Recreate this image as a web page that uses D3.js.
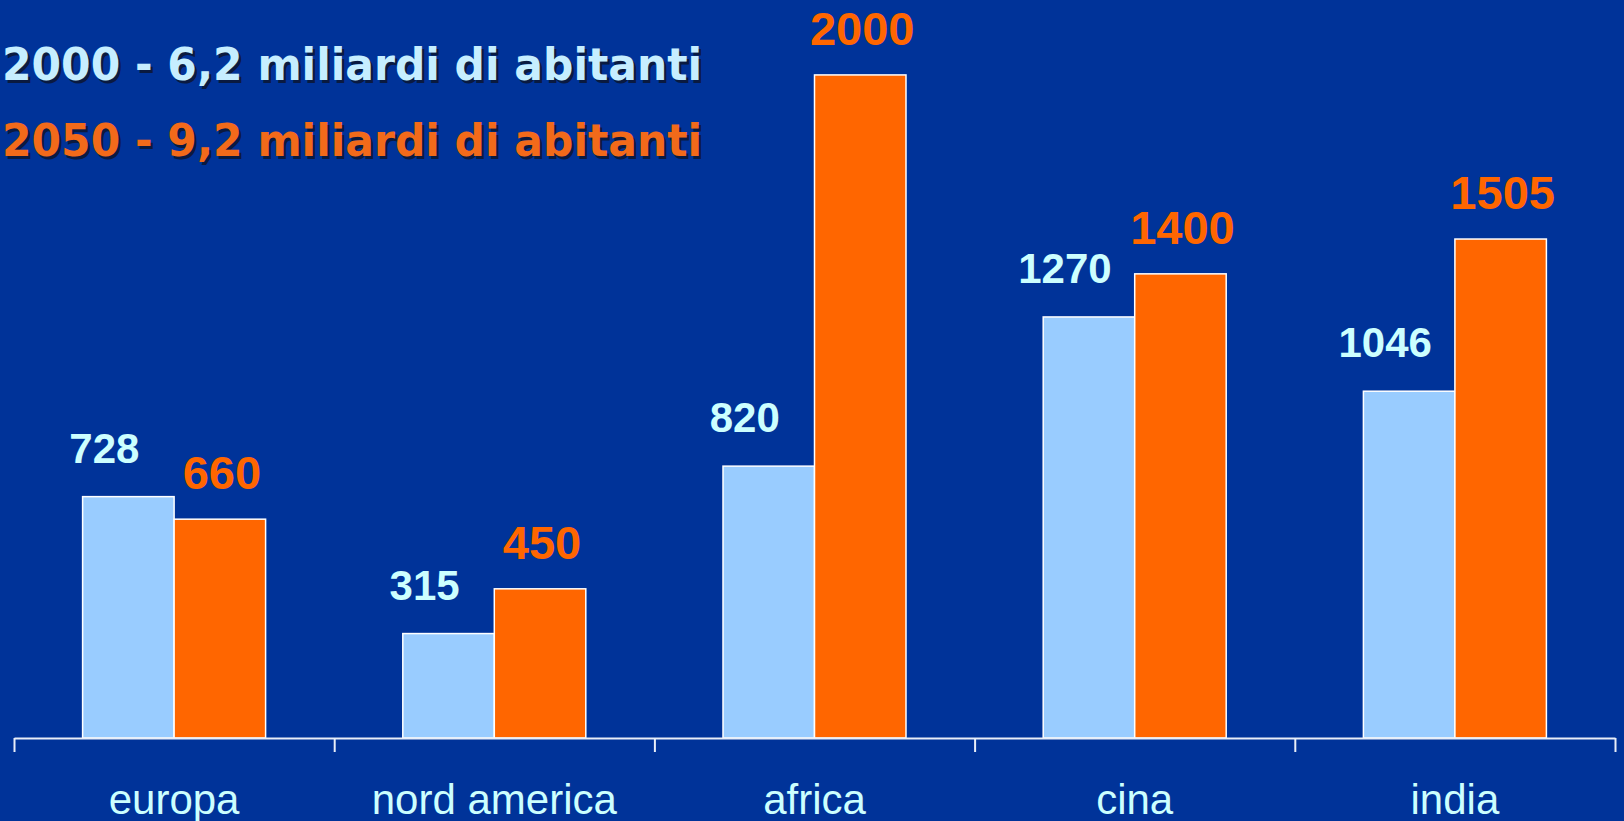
<!DOCTYPE html>
<html>
  <head>
    <meta charset="UTF-8" />
    <script src="https://d3js.org/d3.v7.min.js"></script>
    <style>
      html, body { margin: 0; padding: 0; background: #003399; overflow: hidden; }
    </style>
  </head>
  <body>
    <div id="my_dataviz"></div>
    <script>
      // data
      var categories = ["europa", "nord america", "africa", "cina", "india"];
      var seriesNames = ["2000", "2050"];
      var values2000 = [728, 315, 820, 1270, 1046];
      var values2050 = [660, 450, 2000, 1400, 1505];
      var legendLabels = ["2000 - 6,2 miliardi di abitanti", "2050 - 9,2 miliardi di abitanti"];

      var width = 1624, height = 821;
      var colors = { "2000": "#99ccff", "2050": "#ff6600" };
      var labelColors = { "2000": "#ccffff", "2050": "#ff6600" };
      var legendColors = ["#c6eeff", "#f26a1a"];

      var svg = d3
        .select("#my_dataviz")
        .append("svg")
        .attr("width", width)
        .attr("height", height)
        .style("display", "block");

      svg.append("rect").attr("width", width).attr("height", height).attr("fill", "#003399");

      var axisLeft = 14, axisRight = 1615, baseY = 738;

      var data = categories.map(function (c, i) {
        return { cat: c, vals: [
          { key: "2000", value: values2000[i] },
          { key: "2050", value: values2050[i] }
        ] };
      });

      var x0 = d3.scaleBand().domain(categories).range([axisLeft, axisRight])
        .paddingInner(0.4285).paddingOuter(0.21425);
      var x1 = d3.scaleBand().domain(seriesNames).range([0, x0.bandwidth()]);
      var y = d3.scaleLinear().domain([0, 2226]).range([baseY, 0]);

      // axis with ticks at category boundaries
      var xt = d3.scaleLinear().domain([0, categories.length]).range([axisLeft, axisRight]);
      var axis = d3.axisBottom(xt)
        .tickValues(d3.range(categories.length + 1))
        .tickFormat("")
        .tickSizeInner(14)
        .tickSizeOuter(0);

      // bars
      var groups = svg.selectAll("g.grp")
        .data(data)
        .join("g")
        .attr("class", "grp")
        .attr("transform", function (d) { return "translate(" + x0(d.cat) + ",0)"; });

      groups.selectAll("rect")
        .data(function (d) { return d.vals; })
        .join("rect")
        .attr("x", function (d) { return x1(d.key); })
        .attr("y", function (d) { return y(d.value); })
        .attr("width", x1.bandwidth())
        .attr("height", function (d) { return baseY - y(d.value); })
        .attr("fill", function (d) { return colors[d.key]; })
        .attr("stroke", "#ffffff")
        .attr("stroke-width", 1.5);

      // value labels
      groups.selectAll("text")
        .data(function (d) { return d.vals; })
        .join("text")
        .attr("x", function (d) {
          return x1(d.key) + x1.bandwidth() / 2 + (d.key === "2000" ? -24 : 2);
        })
        .attr("y", function (d) { return y(d.value) - (d.key === "2000" ? 34 : 30); })
        .attr("text-anchor", "middle")
        .attr("font-family", "'Liberation Sans', Arial, sans-serif")
        .attr("font-weight", "bold")
        .attr("font-size", function (d) { return d.key === "2000" ? 42 : 47; })
        .attr("fill", function (d) { return labelColors[d.key]; })
        .text(function (d) { return d.value; });

      var axisG = svg.append("g")
        .attr("transform", "translate(0," + baseY + ")")
        .call(axis);
      axisG.select(".domain").attr("stroke", "#e8eef8").attr("stroke-width", 2);
      axisG.selectAll(".tick line").attr("stroke", "#e8eef8").attr("stroke-width", 2);

      // category labels
      svg.selectAll("text.cat")
        .data(categories)
        .join("text")
        .attr("class", "cat")
        .attr("x", function (d) { return x0(d) + x0.bandwidth() / 2; })
        .attr("y", 814)
        .attr("text-anchor", "middle")
        .attr("font-family", "'Liberation Sans', Arial, sans-serif")
        .attr("font-size", 42)
        .attr("fill", "#ccffff")
        .text(function (d) { return d; });

      // legend text with shadow
      var legendY = [80, 156];
      legendLabels.forEach(function (t, i) {
        [["#0a1a40", 2.5], [legendColors[i], 0]].forEach(function (s) {
          svg.append("text")
            .attr("x", 2 + s[1])
            .attr("y", legendY[i] + s[1])
            .attr("font-family", "'DejaVu Sans', Verdana, sans-serif")
            .attr("font-weight", "bold")
            .attr("font-size", 44)
            .attr("textLength", 700)
            .attr("lengthAdjust", "spacingAndGlyphs")
            .attr("fill", s[0])
            .text(t);
        });
      });
    </script>
  </body>
</html>
